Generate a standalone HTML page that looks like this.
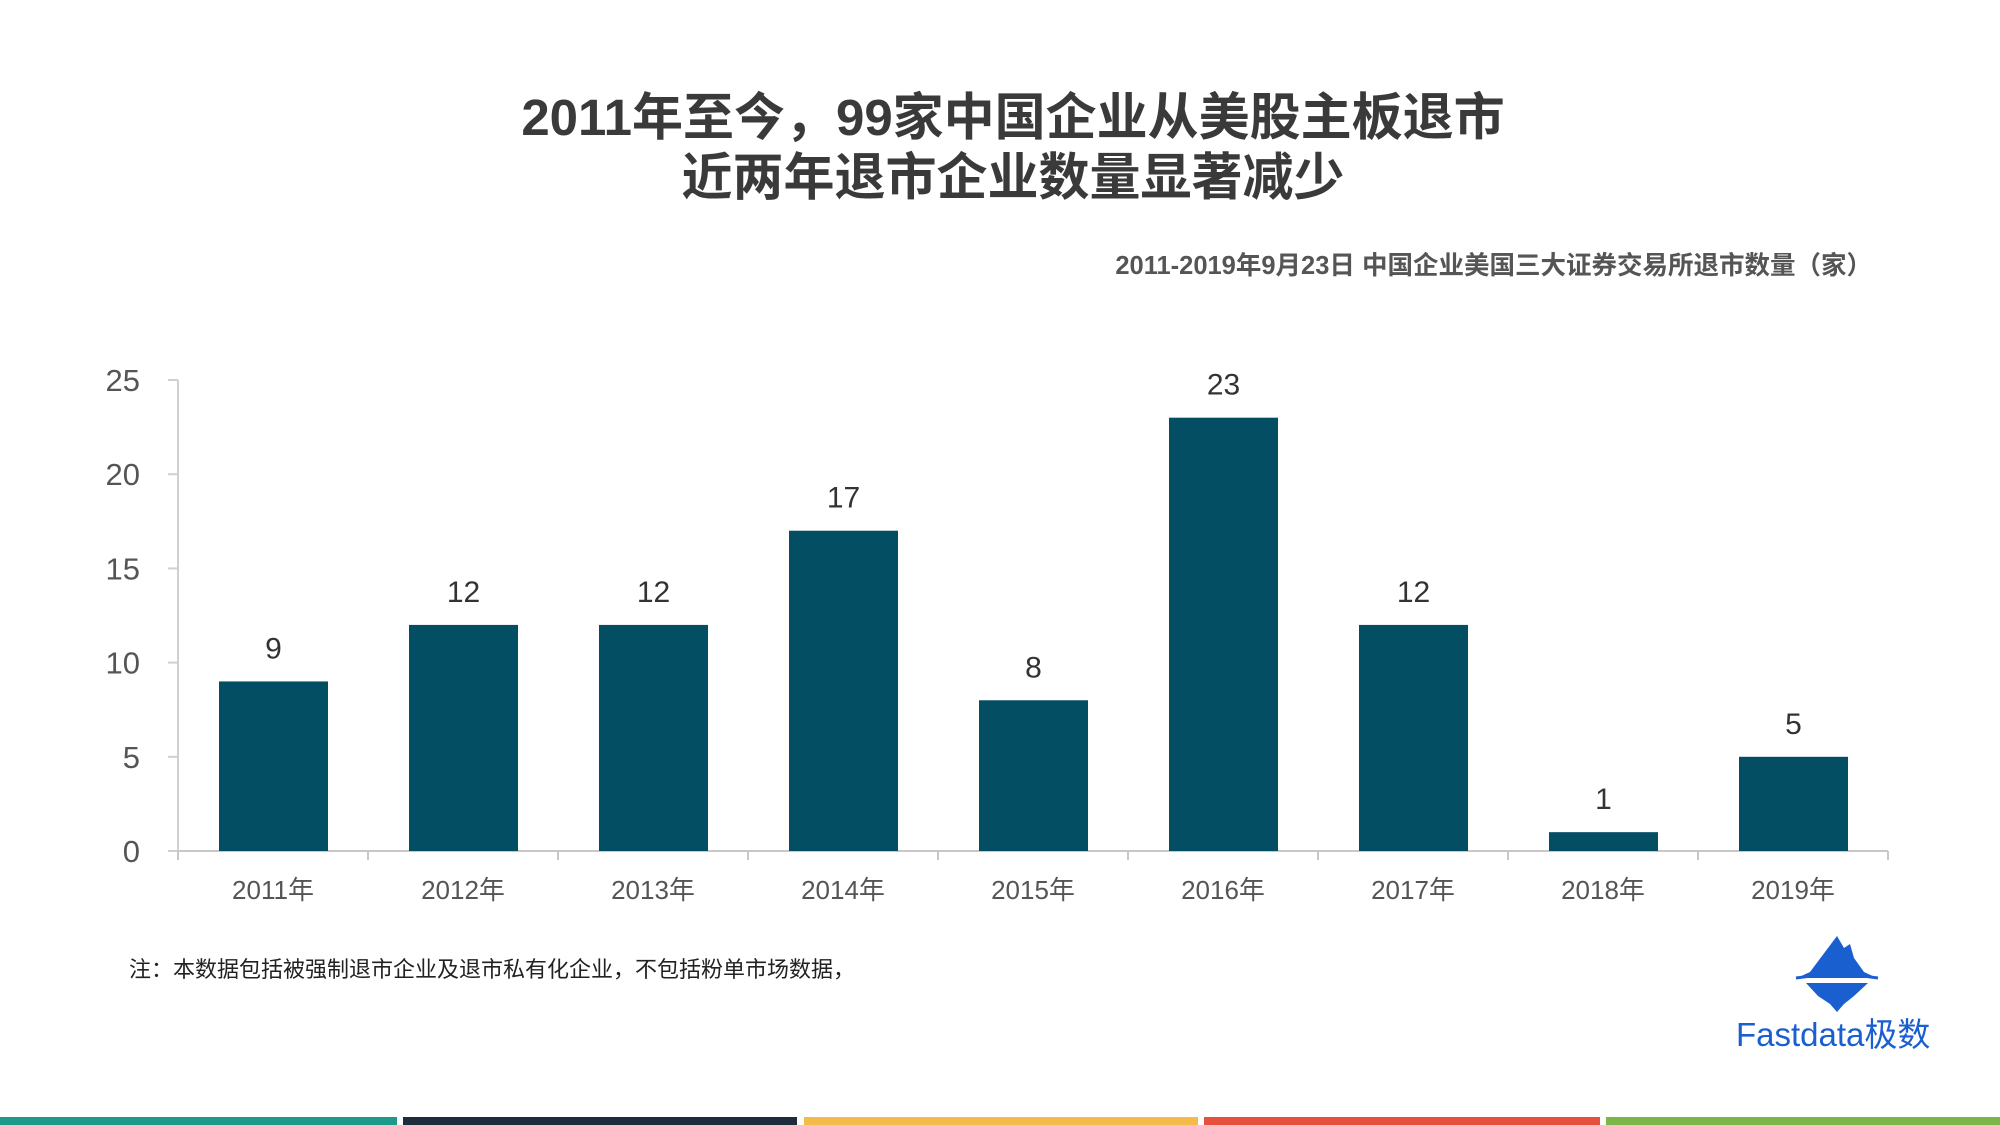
<!DOCTYPE html>
<html><head><meta charset="utf-8"><style>
html,body{margin:0;padding:0;background:#fff;}
body{width:2000px;height:1125px;position:relative;overflow:hidden;font-family:"Liberation Sans","Noto Sans CJK SC",sans-serif;}
.t{position:absolute;white-space:nowrap;}
</style></head><body>
<div class="t" style="left:0;width:2026px;top:88px;text-align:center;font-size:51px;font-weight:bold;color:#3a3a3a;line-height:60px;">2011年至今，99家中国企业从美股主板退市<br>近两年退市企业数量显著减少</div>
<div class="t" style="right:128px;top:245px;font-size:25.5px;font-weight:bold;color:#555;">2011-2019年9月23日 中国企业美国三大证券交易所退市数量（家）</div>
<svg id="chart" width="2000" height="1125" style="position:absolute;left:0;top:0;"></svg>
<div class="t" style="left:129px;top:952px;font-size:22px;color:#222;">注：本数据包括被强制退市企业及退市私有化企业，不包括粉单市场数据，</div>
<svg width="90" height="80" style="position:absolute;left:1792px;top:934px;">
<polygon points="45,2 52,14 58,10 62,24 72,38 85,44 5,44 18,38 30,22 36,14" fill="#1a5fd0"/>
<path d="M4,44 Q45,38 86,44" stroke="#1a5fd0" stroke-width="3" fill="none"/>
<polygon points="14,49 76,49 62,62 52,70 45,78 38,70 26,62" fill="#1a5fd0"/>
</svg>
<div class="t" style="left:1736px;top:1008px;font-size:33px;color:#1a5fd0;">Fastdata极数</div>
<div style="position:absolute;left:0;top:1117px;width:397px;height:8px;background:#1e9a8a;"></div>
<div style="position:absolute;left:403px;top:1117px;width:394px;height:8px;background:#1d2d3d;"></div>
<div style="position:absolute;left:804px;top:1117px;width:394px;height:8px;background:#f2bb4a;"></div>
<div style="position:absolute;left:1204px;top:1117px;width:396px;height:8px;background:#e8503e;"></div>
<div style="position:absolute;left:1606px;top:1117px;width:394px;height:8px;background:#7ab648;"></div>
<script>
const categories=["2011年","2012年","2013年","2014年","2015年","2016年","2017年","2018年","2019年"];
const values=[9,12,12,17,8,23,12,1,5];
const yTicks=[0,5,10,15,20,25];
const NS="http://www.w3.org/2000/svg";
const svg=document.getElementById('chart');
const X0=178,Y0=851,CW=190,YMAX=25,PH=471;
function y(v){return Y0-v/YMAX*PH;}
function x(i){return X0+i*CW;}
function mk(t,a){const e=document.createElementNS(NS,t);for(const k in a)e.setAttribute(k,a[k]);svg.appendChild(e);return e;}
const ya=mk('line',{x1:X0,y1:y(YMAX),x2:X0,y2:Y0,stroke:'#d0d0d0','stroke-width':2});


yTicks.forEach(v=>{
 const tk=mk('line',{x1:X0-10,y1:y(v),x2:X0,y2:y(v),stroke:'#d0d0d0','stroke-width':2});
 
 
 const t=mk('text',{x:X0-38,y:y(v)+11,'text-anchor':'end','font-size':31,fill:'#555','font-family':'Liberation Sans, sans-serif'});
 t.textContent=v;
 
 
});
const xa=mk('line',{x1:X0,y1:Y0,x2:x(categories.length),y2:Y0,stroke:'#c8c8c8','stroke-width':2});


for(let i=0;i<=categories.length;i++){
 const tk=mk('line',{x1:x(i),y1:Y0,x2:x(i),y2:Y0+9,stroke:'#c8c8c8','stroke-width':2});
 
 
}
categories.forEach((c,i)=>{
 const b=mk('rect',{x:x(i)+41,y:y(values[i]),width:109,height:Y0-y(values[i]),fill:'#034e63'});
 
 
 const v=mk('text',{x:x(i)+95.5,y:y(values[i])-23,'text-anchor':'middle','font-size':30,fill:'#333','font-family':'Liberation Sans, sans-serif'});
 v.textContent=values[i];
 
 
 const l=mk('text',{x:x(i)+95,y:899,'text-anchor':'middle','font-size':26,fill:'#555','font-family':'Liberation Sans, Noto Sans CJK SC, sans-serif'});
 l.textContent=c;
 
 
});
</script>
</body></html>
